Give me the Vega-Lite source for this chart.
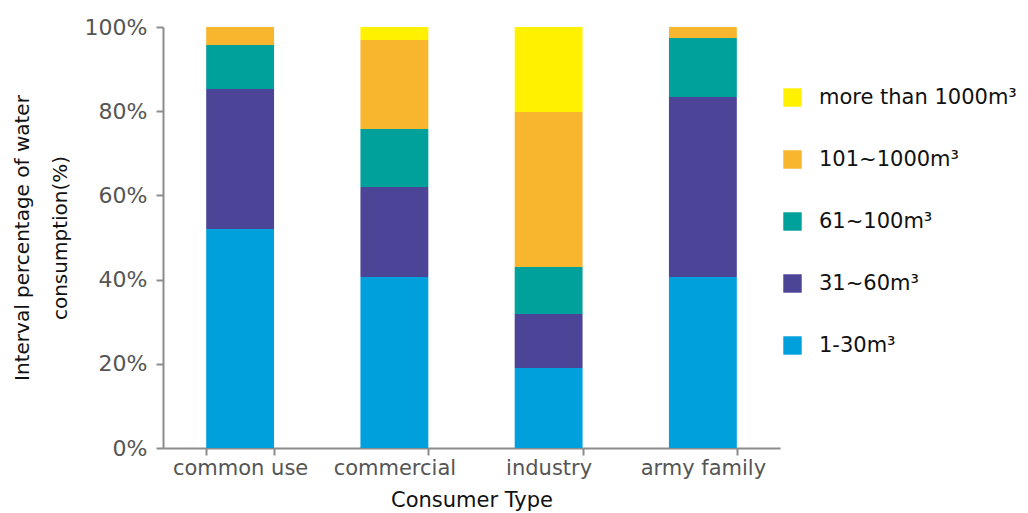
{
  "$schema": "https://vega.github.io/schema/vega-lite/v6.json",
  "width": 617,
  "height": 421,
  "autosize": {"type": "none"},
  "padding": {"left": 163, "top": 27, "right": 248, "bottom": 65},
  "background": "white",
  "config": {
    "view": {"stroke": null},
    "font": "DejaVu Sans"
  },
  "data": {
    "values": [
      {"type": "common use", "range": "1-30m³", "rank": 1, "pct": 52.0},
      {"type": "common use", "range": "31~60m³", "rank": 2, "pct": 33.3},
      {"type": "common use", "range": "61~100m³", "rank": 3, "pct": 10.4},
      {"type": "common use", "range": "101~1000m³", "rank": 4, "pct": 4.3},
      {"type": "common use", "range": "more than 1000m³", "rank": 5, "pct": 0},
      {"type": "commercial", "range": "1-30m³", "rank": 1, "pct": 40.6},
      {"type": "commercial", "range": "31~60m³", "rank": 2, "pct": 21.4},
      {"type": "commercial", "range": "61~100m³", "rank": 3, "pct": 13.8},
      {"type": "commercial", "range": "101~1000m³", "rank": 4, "pct": 21.1},
      {"type": "commercial", "range": "more than 1000m³", "rank": 5, "pct": 3.1},
      {"type": "industry", "range": "1-30m³", "rank": 1, "pct": 19.0},
      {"type": "industry", "range": "31~60m³", "rank": 2, "pct": 12.8},
      {"type": "industry", "range": "61~100m³", "rank": 3, "pct": 11.2},
      {"type": "industry", "range": "101~1000m³", "rank": 4, "pct": 36.8},
      {"type": "industry", "range": "more than 1000m³", "rank": 5, "pct": 20.2},
      {"type": "army family", "range": "1-30m³", "rank": 1, "pct": 40.6},
      {"type": "army family", "range": "31~60m³", "rank": 2, "pct": 42.8},
      {"type": "army family", "range": "61~100m³", "rank": 3, "pct": 14.0},
      {"type": "army family", "range": "101~1000m³", "rank": 4, "pct": 2.6},
      {"type": "army family", "range": "more than 1000m³", "rank": 5, "pct": 0}
    ]
  },
  "mark": {"type": "bar"},
  "encoding": {
    "x": {
      "field": "type",
      "type": "nominal",
      "sort": ["common use", "commercial", "industry", "army family"],
      "scale": {"paddingInner": 0.56, "paddingOuter": 0.28},
      "axis": {
        "title": "Consumer Type",
        "labelAngle": 0,
        "tickBand": "extent",
        "domainColor": "#8c8c8c",
        "domainWidth": 2,
        "tickColor": "#8c8c8c",
        "tickWidth": 2,
        "tickSize": 7,
        "labelFontSize": 21,
        "labelColor": "#555555",
        "labelPadding": 2,
        "titleFontSize": 21,
        "titleFontWeight": "normal",
        "titleColor": "#111111",
        "titlePadding": 11
      }
    },
    "y": {
      "field": "pct",
      "type": "quantitative",
      "stack": true,
      "scale": {"domain": [0, 100], "nice": false},
      "axis": {
        "title": ["Interval percentage of water", "consumption(%)"],
        "values": [0, 20, 40, 60, 80, 100],
        "labelExpr": "datum.value + '%'",
        "grid": false,
        "domainColor": "#8c8c8c",
        "domainWidth": 2,
        "tickColor": "#8c8c8c",
        "tickWidth": 2,
        "tickSize": 7,
        "labelFontSize": 22,
        "labelColor": "#555555",
        "labelPadding": 9,
        "titleFontSize": 20,
        "titleFontWeight": "normal",
        "titleColor": "#111111",
        "titleLineHeight": 38,
        "titlePadding": 14
      }
    },
    "color": {
      "field": "range",
      "type": "nominal",
      "scale": {
        "domain": ["more than 1000m³", "101~1000m³", "61~100m³", "31~60m³", "1-30m³"],
        "range": ["#fff100", "#f8b52e", "#00a19a", "#4b4497", "#00a0dc"]
      },
      "legend": {
        "title": null,
        "orient": "none",
        "legendX": 619,
        "legendY": 60,
        "symbolType": "square",
        "symbolSize": 340,
        "symbolStrokeWidth": 0,
        "labelFontSize": 21,
        "labelColor": "#111111",
        "labelOffset": 16,
        "rowPadding": 40,
        "labelLimit": 300
      }
    },
    "order": {"field": "rank", "type": "quantitative", "sort": "ascending"}
  }
}
